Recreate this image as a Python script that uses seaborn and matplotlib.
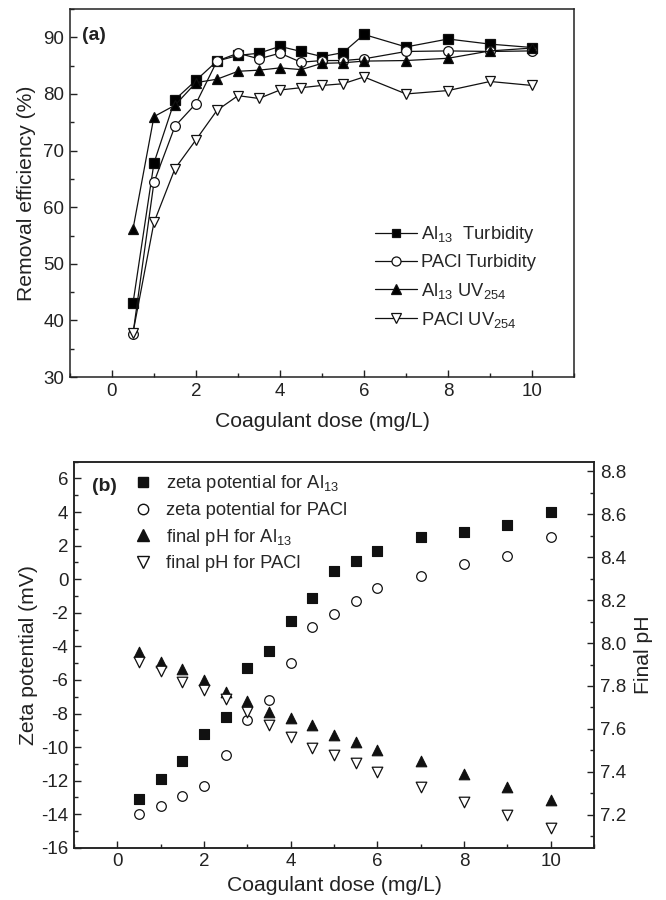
import matplotlib
matplotlib.use("Agg")
import matplotlib.pyplot as plt
import seaborn as sns
import pandas as pd
from matplotlib.lines import Line2D
from matplotlib.ticker import MultipleLocator, FormatStrFormatter

sns.set_theme(style="ticks")
plt.rcParams['font.family'] = ['Liberation Sans', 'DejaVu Sans']
plt.rcParams['mathtext.fontset'] = 'custom'
plt.rcParams['mathtext.rm'] = 'Liberation Sans'
plt.rcParams['mathtext.it'] = 'Liberation Sans'
plt.rcParams['axes.unicode_minus'] = False

# ---------------- data ----------------
dose = [0.5, 1, 1.5, 2, 2.5, 3, 3.5, 4, 4.5, 5, 5.5, 6, 7, 8, 9, 10]

al13_turbidity = [43.0, 67.8, 79.0, 82.4, 85.8, 86.8, 87.2, 88.4, 87.5, 86.6, 87.3, 90.5, 88.3, 89.7, 88.8, 88.2]
pacl_turbidity = [37.6, 64.4, 74.3, 78.3, 85.8, 87.2, 86.2, 87.2, 85.6, 85.9, 85.9, 86.2, 87.5, 87.6, 87.5, 87.6]
al13_uv254 = [56.1, 76.0, 78.0, 82.0, 82.6, 84.0, 84.2, 84.6, 84.3, 85.4, 85.5, 85.8, 85.9, 86.3, 87.6, 88.1]
pacl_uv254 = [37.8, 57.3, 66.8, 71.9, 77.1, 79.7, 79.2, 80.7, 81.1, 81.5, 81.8, 83.0, 80.0, 80.6, 82.2, 81.5]

zeta_al13 = [-13.1, -11.9, -10.8, -9.2, -8.2, -5.3, -4.3, -2.5, -1.1, 0.5, 1.1, 1.7, 2.5, 2.8, 3.2, 4.0]
zeta_pacl = [-14.0, -13.5, -12.9, -12.3, -10.5, -8.4, -7.2, -5.0, -2.85, -2.1, -1.3, -0.5, 0.2, 0.9, 1.4, 2.5]
ph_al13 = [7.96, 7.91, 7.88, 7.83, 7.77, 7.73, 7.68, 7.65, 7.62, 7.57, 7.54, 7.50, 7.45, 7.39, 7.33, 7.27]
ph_pacl = [7.91, 7.87, 7.82, 7.78, 7.74, 7.68, 7.62, 7.56, 7.51, 7.48, 7.44, 7.40, 7.33, 7.26, 7.20, 7.14]

labels_a = ["Al$_{13}$  Turbidity", "PACl Turbidity", "Al$_{13}$ UV$_{254}$", "PACl UV$_{254}$"]
labels_b = ["zeta potential for Al$_{13}$", "zeta potential for PACl",
            "final pH for Al$_{13}$", "final pH for PACl"]

TICK_FS = 13.5
LABEL_FS = 15.2
LEG_FS = 13.2

fig = plt.figure(figsize=(6.66, 9.0), dpi=100)
axA = fig.add_axes([0.105, 0.581, 0.757, 0.409])
axB = fig.add_axes([0.111, 0.058, 0.781, 0.429])

def style_axis(ax):
    for s in ax.spines.values():
        s.set_linewidth(1.1)
        s.set_color('#222222')
    ax.tick_params(which='major', direction='in', length=5, width=1.0, labelsize=TICK_FS,
                   colors='#222222', pad=4)
    ax.tick_params(which='minor', direction='in', length=3, width=1.0, colors='#222222')

# ---------------- panel (a) ----------------
df_a = pd.DataFrame({"dose": dose, "a1": al13_turbidity, "a2": pacl_turbidity,
                     "a3": al13_uv254, "a4": pacl_uv254})
specs_a = [("a1", 's', 'black', 6.5), ("a2", 'o', 'white', 7), ("a3", '^', 'black', 7.5), ("a4", 'v', 'white', 7.5)]
handles_a = []
for (col, mk, fc, ms), lab in zip(specs_a, labels_a):
    sns.lineplot(data=df_a, x="dose", y=col, ax=axA, color='#111111', linewidth=0.9,
                 marker=mk, markersize=ms, markerfacecolor=fc, markeredgecolor='#111111',
                 markeredgewidth=0.9, legend=False)
    handles_a.append(Line2D([], [], color='#111111', linewidth=0.9, marker=mk, markersize=ms - 0.5,
                            markerfacecolor=fc, markeredgecolor='#111111', markeredgewidth=0.9))

axA.set_xlim(-1, 11)
axA.set_ylim(30, 95)
axA.xaxis.set_major_locator(MultipleLocator(2))
axA.xaxis.set_minor_locator(MultipleLocator(1))
axA.yaxis.set_major_locator(MultipleLocator(10))
axA.yaxis.set_minor_locator(MultipleLocator(5))
style_axis(axA)
axA.set_xlabel("Coagulant dose (mg/L)", fontsize=LABEL_FS, color='#222222', labelpad=9)
axA.set_ylabel("Removal efficiency (%)", fontsize=LABEL_FS, color='#222222', labelpad=5)
axA.text(0.024, 0.915, "(a)", transform=axA.transAxes, fontsize=14, fontweight='bold', color='#222222')
axA.legend(handles_a, labels_a, loc='upper left', bbox_to_anchor=(0.58, 0.45), frameon=False,
           fontsize=LEG_FS, handlelength=2.3, handletextpad=0.2, labelspacing=0.5, borderpad=0.2)

# ---------------- panel (b) ----------------
df_b = pd.DataFrame({"dose": dose, "z1": zeta_al13, "z2": zeta_pacl, "p1": ph_al13, "p2": ph_pacl})
axB2 = axB.twinx()
sns.scatterplot(data=df_b, x="dose", y="z1", ax=axB, marker='s', s=42, color='#111111',
                edgecolor='#111111', linewidth=0.8, legend=False)
sns.scatterplot(data=df_b, x="dose", y="z2", ax=axB, marker='o', s=48, color='white',
                edgecolor='#111111', linewidth=0.9, legend=False)
sns.scatterplot(data=df_b, x="dose", y="p1", ax=axB2, marker='^', s=58, color='#111111',
                edgecolor='#111111', linewidth=0.8, legend=False)
sns.scatterplot(data=df_b, x="dose", y="p2", ax=axB2, marker='v', s=58, color='white',
                edgecolor='#111111', linewidth=0.9, legend=False)

axB.set_xlim(-1, 11)
axB.set_ylim(-16, 7)
axB2.set_ylim(7.046, 8.845)
axB.xaxis.set_major_locator(MultipleLocator(2))
axB.xaxis.set_minor_locator(MultipleLocator(1))
axB.yaxis.set_major_locator(MultipleLocator(2))
axB.yaxis.set_minor_locator(MultipleLocator(1))
axB2.yaxis.set_major_locator(MultipleLocator(0.2))
axB2.yaxis.set_minor_locator(MultipleLocator(0.1))
axB2.yaxis.set_major_formatter(FormatStrFormatter('%.1f'))
style_axis(axB)
style_axis(axB2)
axB.set_xlabel("Coagulant dose (mg/L)", fontsize=LABEL_FS, color='#222222', labelpad=4)
axB.set_ylabel("Zeta potential (mV)", fontsize=LABEL_FS, color='#222222', labelpad=2)
axB2.set_ylabel("Final pH", fontsize=LABEL_FS, color='#222222', labelpad=6)
axB.text(0.034, 0.925, "(b)", transform=axB.transAxes, fontsize=14, fontweight='bold', color='#222222')

handles_b = [
    Line2D([], [], linestyle='none', marker='s', markersize=7, markerfacecolor='#111111', markeredgecolor='#111111'),
    Line2D([], [], linestyle='none', marker='o', markersize=7.5, markerfacecolor='white', markeredgecolor='#111111'),
    Line2D([], [], linestyle='none', marker='^', markersize=8, markerfacecolor='#111111', markeredgecolor='#111111'),
    Line2D([], [], linestyle='none', marker='v', markersize=8, markerfacecolor='white', markeredgecolor='#111111'),
]
axB.legend(handles_b, labels_b, loc='upper left', bbox_to_anchor=(0.09, 1.003), frameon=False,
           fontsize=LEG_FS, handlelength=1.0, handletextpad=0.75, labelspacing=0.42, borderpad=0.2)

fig.savefig("out.png", dpi=100)
